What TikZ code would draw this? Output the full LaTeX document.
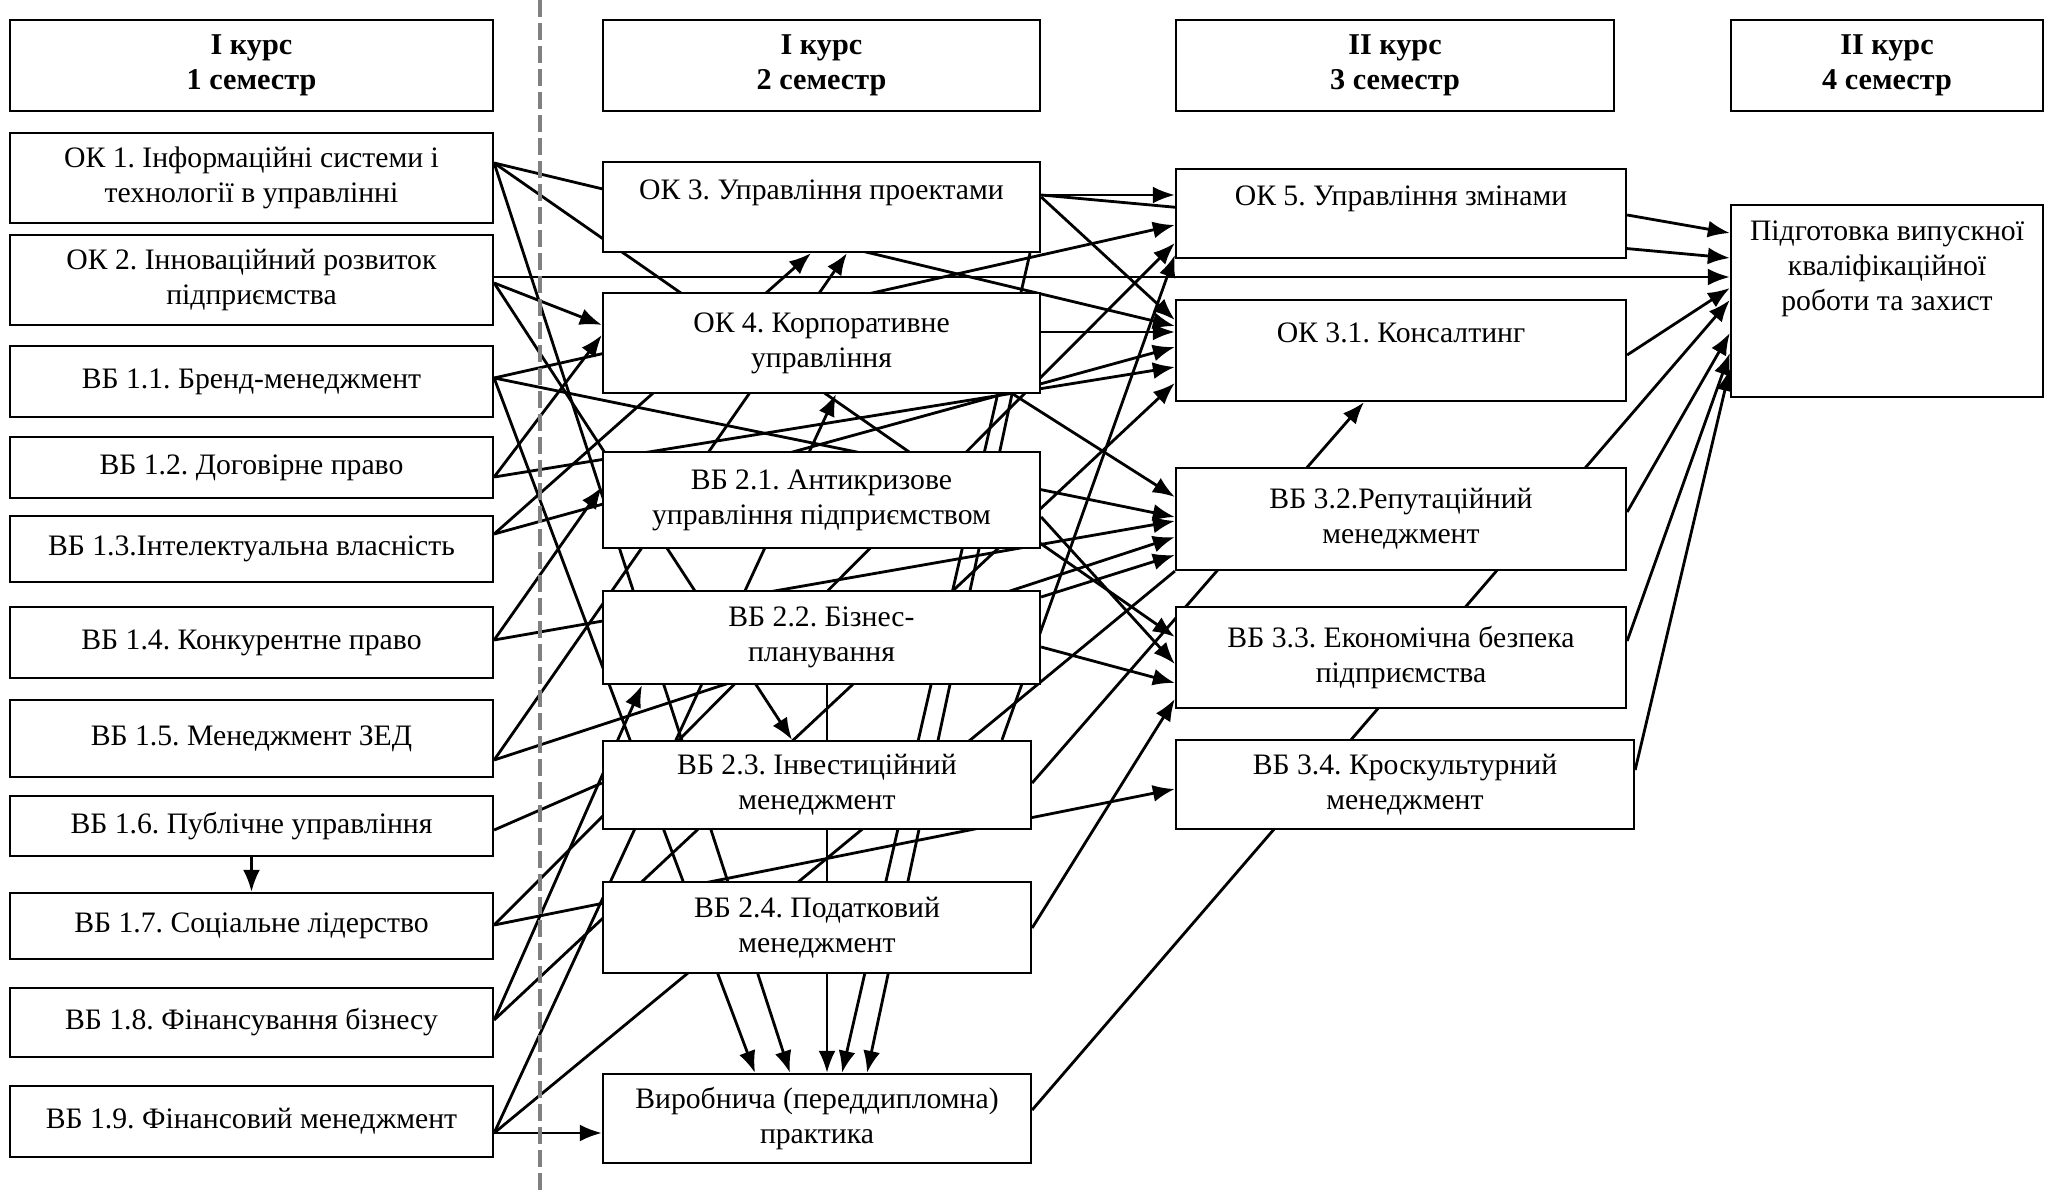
\documentclass[tikz,border=0pt]{standalone}
\usepackage{fontspec}
\setmainfont{Liberation Serif}
\usetikzlibrary{arrows.meta}
\pgfdeclarelayer{bg}
\pgfsetlayers{bg,main}
\frenchspacing

\begin{document}
\begin{tikzpicture}[x=0.1mm,y=-0.1mm,>={Latex[length=2.2mm,width=1.7mm]},
	box/.style={draw,fill=white,line width=0.65pt,align=center,inner sep=0pt,font={\fontsize{8.45}{10}\selectfont}},
	head/.style={box,font={\fontsize{8.6}{10}\selectfont\bfseries}},
	link/.style={line width=0.8pt}]

	\useasboundingbox (0,0) rectangle (2056,1195);

	% Semester headers
	\node[head,minimum width=48.3mm,minimum height=9.1mm] (h1) at (251.5,65.5) {І курс\\1 семестр};
	\node[head,minimum width=43.7mm,minimum height=9.1mm] (h2) at (821.5,65.5) {І курс\\2 семестр};
	\node[head,minimum width=43.8mm,minimum height=9.1mm] (h3) at (1395,65.5) {ІІ курс\\3 семестр};
	\node[head,minimum width=31.2mm,minimum height=9.1mm] (h4) at (1887,65.5) {ІІ курс\\4 семестр};

	% Draw the dashed divider
	\draw[gray,line width=1pt,dash pattern=on 1.7mm off 0.6mm] (540,0) -- (540,1195);

	% First semester
	\node[box,minimum width=48.3mm,minimum height=9mm] (ok1) at (251.5,178) {ОК 1. Інформаційні системи і\\технології в управлінні};
	\node[box,minimum width=48.3mm,minimum height=9mm] (ok2) at (251.5,280) {ОК 2. Інноваційний розвиток\\підприємства};
	\node[box,minimum width=48.3mm,minimum height=7.1mm] (b11) at (251.5,381.5) {ВБ 1.1. Бренд-менеджмент};
	\node[box,minimum width=48.3mm,minimum height=6.1mm] (b12) at (251.5,467.5) {ВБ 1.2. Договірне право};
	\node[box,minimum width=48.3mm,minimum height=6.6mm] (b13) at (251.5,549) {ВБ 1.3.Інтелектуальна власність};
	\node[box,minimum width=48.3mm,minimum height=7.1mm] (b14) at (251.5,642.5) {ВБ 1.4. Конкурентне право};
	\node[box,minimum width=48.3mm,minimum height=7.7mm] (b15) at (251.5,738.5) {ВБ 1.5. Менеджмент ЗЕД};
	\node[box,minimum width=48.3mm,minimum height=6mm] (b16) at (251.5,826) {ВБ 1.6. Публічне управління};
	\node[box,minimum width=48.3mm,minimum height=6.6mm] (b17) at (251.5,926) {ВБ 1.7. Соціальне лідерство};
	\node[box,minimum width=48.3mm,minimum height=6.9mm] (b18) at (251.5,1022.5) {ВБ 1.8. Фінансування бізнесу};
	\node[box,minimum width=48.3mm,minimum height=7.1mm] (b19) at (251.5,1121.5) {ВБ 1.9. Фінансовий менеджмент};

	% Second semester
	\node[box,minimum width=43.7mm,minimum height=9mm] (ok3) at (821.5,207) {ОК 3. Управління проектами\\ \mbox{}};
	\node[box,minimum width=43.7mm,minimum height=10mm] (ok4) at (821.5,343) {ОК 4. Корпоративне\\управління};
	\node[box,minimum width=43.7mm,minimum height=9.6mm] (v21) at (821.5,500) {ВБ 2.1. Антикризове\\управління підприємством};
	\node[box,minimum width=43.7mm,minimum height=9.3mm] (v22) at (821.5,637.5) {ВБ 2.2. Бізнес-\\планування};
	\node[box,minimum width=42.8mm,minimum height=8.8mm] (v23) at (817,785) {ВБ 2.3. Інвестиційний\\менеджмент};
	\node[box,minimum width=42.8mm,minimum height=9.1mm] (v24) at (817,927.5) {ВБ 2.4. Податковий\\менеджмент};
	\node[box,minimum width=42.8mm,minimum height=8.9mm] (pr) at (817,1118.5) {Виробнича (переддипломна)\\практика};

	% Third semester
	\node[box,minimum width=45mm,minimum height=8.9mm] (ok5) at (1401,213.5) {ОК 5. Управління змінами\\ \mbox{}};
	\node[box,minimum width=45mm,minimum height=10.1mm] (k31) at (1401,350.5) {ОК 3.1. Консалтинг\\ \mbox{}};
	\node[box,minimum width=45mm,minimum height=10.2mm] (v32) at (1401,519) {ВБ 3.2.Репутаційний\\менеджмент};
	\node[box,minimum width=45mm,minimum height=10.1mm] (v33) at (1401,657.5) {ВБ 3.3. Економічна безпека\\підприємства};
	\node[box,minimum width=45.8mm,minimum height=8.9mm] (v34) at (1405,784.5) {ВБ 3.4. Кроскультурний\\менеджмент};

	% Fourth semester
	\node[box,minimum width=31.2mm,minimum height=19.2mm] (fin) at (1887,301) {Підготовка випускної\\кваліфікаційної\\роботи та захист\\ \mbox{}\\ \mbox{}};

	\begin{pgfonlayer}{bg}
	% Links from the first semester
	\draw[link,->] (ok1.east |- 0,163) -- (k31.west |- 0,326);
	\draw[link,->] (ok1.east |- 0,163) -- (v33.west |- 0,637);
	\draw[link,->] (ok1.east |- 0,163) -- (790,0 |- pr.north);
	\draw[link,->] (ok2.east |- 0,277) -- (fin.west |- 0,277);
	\draw[link,->] (ok2.east |- 0,283) -- (ok4.west |- 0,325);
	\draw[link,->] (ok2.east |- 0,283) -- (792,0 |- v23.north);
	\draw[link,->] (b11.east |- 0,378) -- (ok5.west |- 0,225);
	\draw[link,->] (b11.east |- 0,378) -- (v32.west |- 0,517);
	\draw[link,->] (b11.east |- 0,378) -- (755,0 |- pr.north);
	\draw[link,->] (b12.east |- 0,477) -- (ok4.west |- 0,335);
	\draw[link,->] (b12.east |- 0,477) -- (k31.west |- 0,367);
	\draw[link,->] (b13.east |- 0,534) -- (811,0 |- ok3.south);
	\draw[link,->] (b13.east |- 0,534) -- (k31.west |- 0,347);
	\draw[link,->] (b14.east |- 0,640) -- (v21.west |- 0,487);
	\draw[link,->] (b14.east |- 0,640) -- (v32.west |- 0,521);
	\draw[link,->] (b15.east |- 0,760) -- (847,0 |- ok3.south);
	\draw[link,->] (b15.east |- 0,760) -- (v32.west |- 0,537);
	\draw[link] (b16.east |- 0,830) -- (v23.west |- 0,783);
	\draw[link,->] (b16.south) -- (b17.north);
	\draw[link,->] (b17.east |- 0,925) -- (ok5.west |- 0,243);
	\draw[link,->] (b17.east |- 0,925) -- (v34.west |- 0,789);
	\draw[link,->] (b18.east |- 0,1020) -- (642,0 |- v22.south);
	\draw[link,->] (b18.east |- 0,1020) -- (k31.west |- 0,383);
	\draw[link,->] (b19.east |- 0,1133) -- (836,0 |- ok4.south);
	\draw[link] (b19.east |- 0,1133) -- (v32.south west);
	\draw[link,->] (b19.east |- 0,1133) -- (pr.west |- 0,1133);

	% Links from the second semester
	\draw[link,->] (ok3.east |- 0,195) -- (ok5.west |- 0,195);
	\draw[link,->] (ok3.east |- 0,195) -- (fin.west |- 0,258);
	\draw[link,->] (ok3.east |- 0,197) -- (k31.west |- 0,320);
	\draw[link,->] (1030,0 |- ok3.south) -- (842,0 |- pr.north);
	\draw[link,->] (ok4.east |- 0,332) -- (k31.west |- 0,332);
	\draw[link,->] (1012,0 |- ok4.south) -- (867,0 |- pr.north);
	\draw[link,->] (1013,0 |- ok4.south) -- (v32.west |- 0,497);
	\draw[link,->] (v21.east |- 0,517) -- (v33.west |- 0,664);
	\draw[link,->] (827,0 |- v22.south) -- (827,0 |- pr.north);
	\draw[link,->] (v22.east |- 0,597) -- (v32.west |- 0,555);
	\draw[link,->] (v22.east |- 0,647) -- (v33.west |- 0,683);
	\draw[link,->] (v23.east |- 0,783) -- (1364,0 |- k31.south);
	\draw[link,->] (1002,0 |- v23.north) -- (ok5.west |- 0,255);
	\draw[link,->] (v24.east |- 0,928) -- (v33.west |- 0,699);
	\draw[link,->] (pr.east |- 0,1110) -- (fin.west |- 0,300);

	% Links from the third semester
	\draw[link,->] (ok5.east |- 0,215) -- (fin.west |- 0,233);
	\draw[link,->] (k31.east |- 0,355) -- (fin.west |- 0,288);
	\draw[link,->] (v32.east |- 0,512) -- (fin.west |- 0,333);
	\draw[link,->] (v33.east |- 0,641) -- (fin.west |- 0,353);
	\draw[link,->] (v34.east |- 0,770) -- (fin.west |- 0,369);
	\end{pgfonlayer}
\end{tikzpicture}
\end{document}
